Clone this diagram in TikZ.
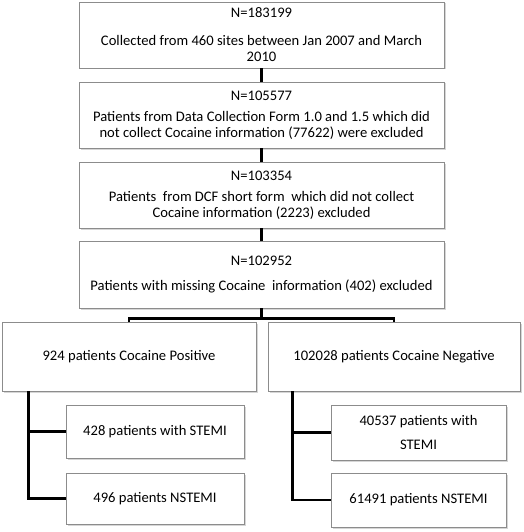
\documentclass[tikz,border=0pt]{standalone}
\usepackage{fontspec}
\setmainfont{Carlito}
\usetikzlibrary{shadows}
\begin{document}
\begin{tikzpicture}[x=1pt,y=-1pt,
  box/.style={draw=black!45, line width=0.8pt, fill=white, align=center, inner sep=0pt,
    font=\fontsize{14.6}{16}\selectfont,
    drop shadow={shadow xshift=1.5pt, shadow yshift=-1.5pt, fill=black!40, opacity=0.4}},
  conn/.style={line width=2.4pt, black}]
\useasboundingbox (0,0) rectangle (523,532);
\node[box, minimum width=365pt, minimum height=66pt] (b1) at (261.5,35)
  {N=183199\\[12pt]Collected from 460 sites between Jan 2007 and March\\2010};
\node[box, minimum width=365pt, minimum height=66pt] (b2) at (261.5,115)
  {N=105577\\[5pt]Patients from Data Collection Form 1.0 and 1.5 which did\\not collect Cocaine information (77622) were excluded};
\node[box, minimum width=365pt, minimum height=66pt] (b3) at (261.5,195)
  {N=103354\\[5pt]Patients\ \ from DCF short form\ \ which did not collect\\Cocaine information (2223) excluded};
\node[box, minimum width=365pt, minimum height=67pt] (b4) at (261.5,274.5)
  {N=102952\\[9pt]Patients with missing Cocaine\ \ information (402) excluded};
\node[box, minimum width=254pt, minimum height=69pt] (pos) at (129,356.5)
  {924 patients Cocaine Positive};
\node[box, minimum width=252pt, minimum height=69pt] (neg) at (394,356.5)
  {102028 patients Cocaine Negative};
\node[box, minimum width=178pt, minimum height=53pt] (ps) at (155,431.5)
  {428 patients with STEMI};
\node[box, minimum width=178pt, minimum height=51pt] (pn) at (155,498.5)
  {496 patients NSTEMI};
\node[box, minimum width=175pt, minimum height=55pt] (ns) at (418.5,432.5)
  {40537 patients with\\[8pt]STEMI};
\node[box, minimum width=175pt, minimum height=54pt] (nn) at (418.5,500)
  {61491 patients NSTEMI};
\draw[conn] (b1.south) -- (b2.north);
\draw[conn] (b2.south) -- (b3.north);
\draw[conn] (b3.south) -- (b4.north);
\draw[conn] (b4.south) -- ++(0,10) coordinate (j);
\draw[conn] (j) -| (pos.north);
\draw[conn] (j) -| (neg.north);
\coordinate (pl) at ([xshift=27pt]pos.south west);
\coordinate (nl) at ([xshift=25pt]neg.south west);
\draw[conn] (pl) |- (ps.west);
\draw[conn] (pl) |- (pn.west);
\draw[conn] (nl) |- (ns.west);
\draw[conn] (nl) |- (nn.west);
\end{tikzpicture}
\end{document}
